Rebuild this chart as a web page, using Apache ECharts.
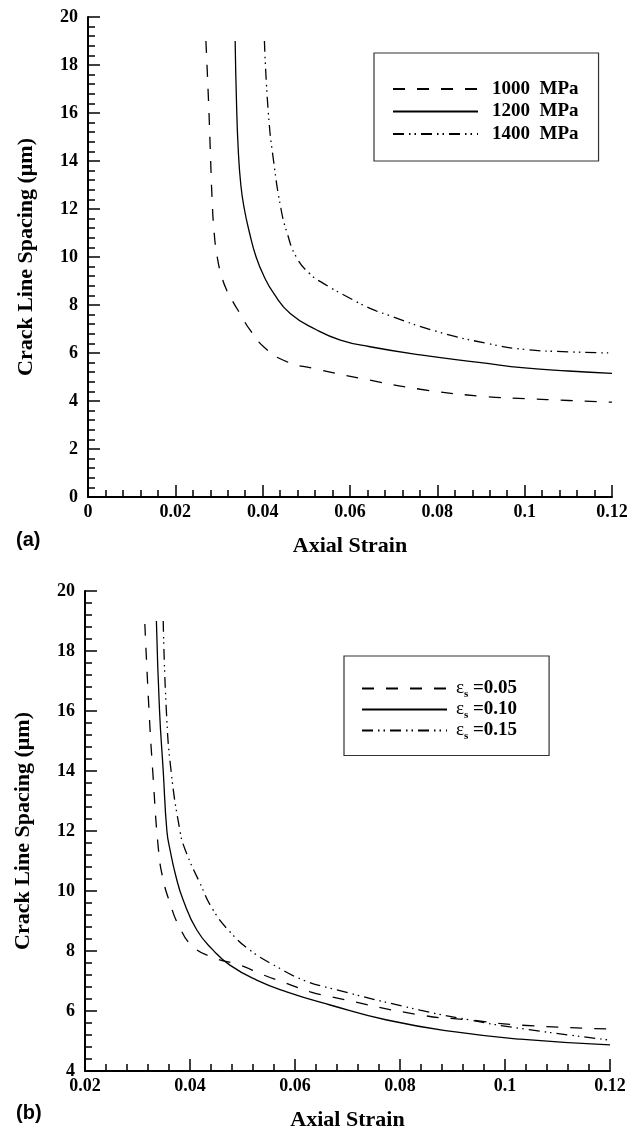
<!DOCTYPE html>
<html>
<head>
<meta charset="utf-8">
<script src="https://cdn.jsdelivr.net/npm/echarts@6/dist/echarts.min.js"></script>
<style>
  html, body { margin: 0; padding: 0; background: #fff; }
  #chart { width: 642px; height: 1128px; }
</style>
</head>
<body>
<div id="chart"></div>
<script>
// panel (a): stress levels, [axial strain, spacing]
var namesA = ['1000  MPa', '1200  MPa', '1400  MPa'];
var curve1000 = [[0.0270,19],[0.0276,16.5],[0.0280,14.5],[0.0284,12.5],[0.0289,11],[0.0296,10],[0.0306,9.2],
  [0.0318,8.6],[0.0333,8.1],[0.0348,7.65],[0.0371,6.96],[0.0406,6.2],[0.0455,5.64],[0.0516,5.36],
  [0.0623,4.95],[0.0761,4.49],[0.09,4.2],[0.1,4.1],[0.11,4.02],[0.12,3.95]];
var curve1200 = [[0.0337,19],[0.0340,16.5],[0.0344,14.5],[0.0350,13],[0.0358,12],[0.0370,11],[0.0385,10],
  [0.0403,9.2],[0.0425,8.49],[0.0463,7.65],[0.0524,6.96],[0.0578,6.54],[0.0646,6.26],[0.0761,5.92],
  [0.09,5.6],[0.1,5.38],[0.11,5.25],[0.12,5.15]];
var curve1400 = [[0.0404,19],[0.0413,16],[0.0425,14],[0.0442,12],[0.0456,11],[0.0477,10],[0.0508,9.3],
  [0.0539,8.9],[0.06,8.28],[0.0646,7.86],[0.0684,7.6],[0.08,6.89],[0.0914,6.4],[0.1,6.15],
  [0.11,6.05],[0.12,6.0]];

// panel (b): eps_s levels
var namesB = ['0.05', '0.10', '0.15'];
var curveE05 = [[0.0314,18.9],[0.0322,16],[0.0329,14],[0.034,11.37],[0.0349,10.37],[0.0362,9.59],[0.0378,8.87],
  [0.0406,8.14],[0.0448,7.76],[0.0495,7.53],[0.054,7.2],[0.0584,6.92],[0.0629,6.64],[0.0667,6.48],
  [0.0838,5.87],[0.0933,5.7],[0.1029,5.53],[0.12,5.4]];
var curveE10 = [[0.0336,19],[0.0342,16],[0.0349,14],[0.0356,12],[0.0362,11.37],[0.0373,10.5],[0.0387,9.7],
  [0.0413,8.7],[0.0444,8.03],[0.0476,7.53],[0.0527,7.03],[0.0584,6.64],[0.0667,6.2],[0.0775,5.7],
  [0.0902,5.31],[0.1029,5.06],[0.12,4.87]];
var curveE15 = [[0.0349,19],[0.0355,16],[0.0364,14],[0.0381,12],[0.0391,11.37],[0.0419,10.26],[0.0444,9.37],
  [0.0476,8.64],[0.0514,8.03],[0.0565,7.48],[0.0616,7.03],[0.0667,6.76],[0.0838,6.03],[0.0933,5.7],
  [0.1029,5.42],[0.12,5.03]];

var SERIF = '"Liberation Serif", "Times New Roman", serif';
var SANS = '"Liberation Sans", Arial, sans-serif';
var DASH = [12, 12];
var DASHDOT = [11, 5, 1.5, 4, 1.5, 5];

var chart = echarts.init(document.getElementById('chart'), null, { renderer: 'canvas' });

function xAxisFor(idx, min) {
  return {
    type: 'value', gridIndex: idx, min: min, max: 0.12, interval: 0.02,
    name: 'Axial Strain', nameLocation: 'middle', nameGap: 38,
    nameTextStyle: { fontFamily: SERIF, fontWeight: 'bold', fontSize: 22, color: '#000' },
    axisLine: { onZero: false, lineStyle: { color: '#000', width: 2 } },
    axisTick: { inside: true, length: 12, lineStyle: { color: '#000', width: 1.5 } },
    minorTick: { show: true, splitNumber: 5, length: 7, lineStyle: { color: '#000', width: 1.5 } },
    splitLine: { show: false },
    axisLabel: { margin: 6, fontFamily: SERIF, fontWeight: 'bold', fontSize: 18, color: '#000',
      showMinLabel: true, showMaxLabel: true }
  };
}
function yAxisFor(idx, min) {
  return {
    type: 'value', gridIndex: idx, min: min, max: 20, interval: 2,
    name: 'Crack Line Spacing (\u03bcm)', nameLocation: 'middle', nameGap: 51, nameRotate: 90,
    nameTextStyle: { fontFamily: SERIF, fontWeight: 'bold', fontSize: 22, color: '#000' },
    axisLine: { onZero: false, lineStyle: { color: '#000', width: 2 } },
    axisTick: { inside: true, length: 12, lineStyle: { color: '#000', width: 1.5 } },
    minorTick: { show: true, splitNumber: 5, length: 7, lineStyle: { color: '#000', width: 1.5 } },
    splitLine: { show: false },
    axisLabel: { margin: 10, fontFamily: SERIF, fontWeight: 'bold', fontSize: 18, color: '#000',
      showMinLabel: true, showMaxLabel: true }
  };
}
function curve(name, data, idx, dash) {
  return {
    name: name, type: 'line', xAxisIndex: idx, yAxisIndex: idx, data: data,
    showSymbol: false, symbol: 'none', smooth: 0.5, silent: true,
    itemStyle: { color: 'rgba(0,0,0,0)' },
    lineStyle: { color: '#000', width: 1.3, type: dash }
  };
}
function legendBox(names, left, top, padding) {
  return {
    data: names, orient: 'vertical', left: left, top: top,
    padding: padding, itemGap: 0.5, itemWidth: 85, itemHeight: 14,
    borderColor: '#333', borderWidth: 1.2, backgroundColor: '#fff',
    selectedMode: false,
    itemStyle: { color: 'rgba(0,0,0,0)', borderColor: 'rgba(0,0,0,0)', borderWidth: 0 }
  };
}

var legendA = legendBox(namesA, 374, 53, [25, 20, 16, 18]);
legendA.textStyle = { fontFamily: SERIF, fontWeight: 'bold', fontSize: 19, color: '#000', lineHeight: 22, padding: [0, 0, 0, 9] };

var legendB = legendBox(namesB.map(function (n) { return 'eps' + n; }), 344, 656, [23, 32, 14, 17]);
legendB.formatter = function (name) { return '{e|\u03b5}{s|s}{t| =' + name.slice(3) + '}'; };
legendB.textStyle = {
  color: '#000', padding: [0, 0, 0, 4],
  rich: {
    e: { fontFamily: SERIF, fontSize: 19, lineHeight: 22, color: '#000' },
    s: { fontFamily: SERIF, fontWeight: 'bold', fontSize: 11, lineHeight: 22, verticalAlign: 'bottom', color: '#000' },
    t: { fontFamily: SERIF, fontWeight: 'bold', fontSize: 19, lineHeight: 22, color: '#000' }
  }
};

var option = {
  animation: false,
  backgroundColor: '#fff',
  title: [
    { text: '(a)', left: 16, top: 530, padding: 0, textStyle: { fontFamily: SANS, fontWeight: 'bold', fontSize: 20, color: '#000' } },
    { text: '(b)', left: 16, top: 1103, padding: 0, textStyle: { fontFamily: SANS, fontWeight: 'bold', fontSize: 20, color: '#000' } }
  ],
  grid: [
    { left: 88, top: 17, width: 524, height: 480, outerBoundsMode: 'none' },
    { left: 85, top: 591, width: 525, height: 480, outerBoundsMode: 'none' }
  ],
  xAxis: [xAxisFor(0, 0), xAxisFor(1, 0.02)],
  yAxis: [yAxisFor(0, 0), yAxisFor(1, 4)],
  legend: [legendA, legendB],
  series: [
    curve(namesA[0], curve1000, 0, DASH),
    curve(namesA[1], curve1200, 0, 'solid'),
    curve(namesA[2], curve1400, 0, DASHDOT),
    curve('eps' + namesB[0], curveE05, 1, DASH),
    curve('eps' + namesB[1], curveE10, 1, 'solid'),
    curve('eps' + namesB[2], curveE15, 1, DASHDOT)
  ]
};

chart.setOption(option);
</script>
</body>
</html>
